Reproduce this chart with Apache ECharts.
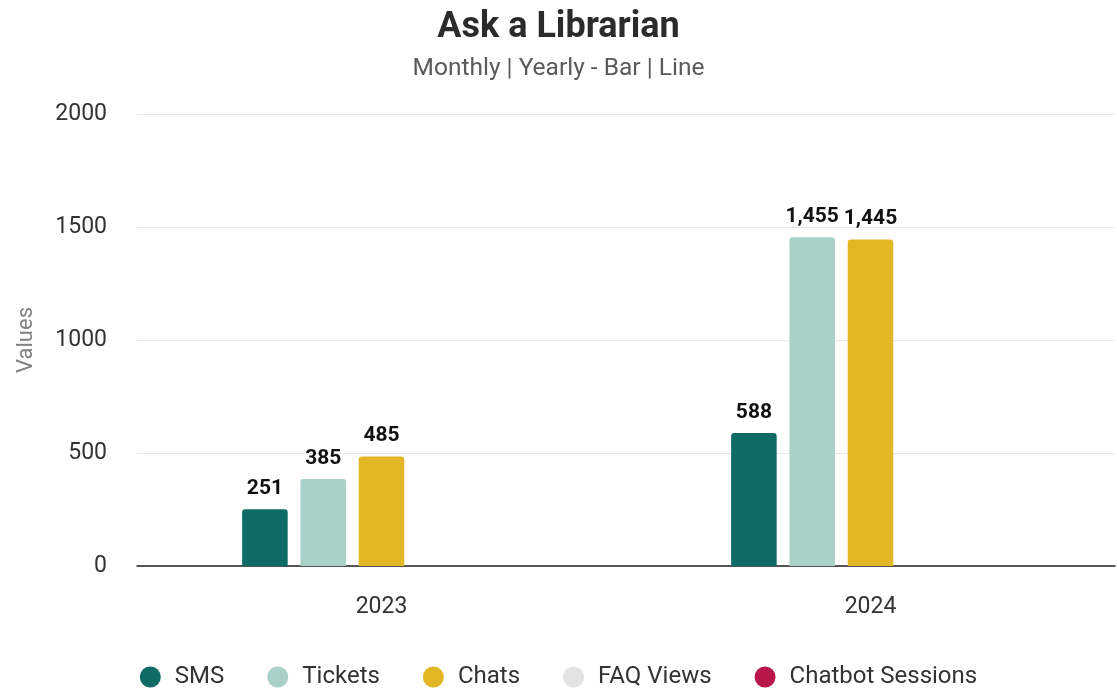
<!DOCTYPE html>
<html>
<head>
<meta charset="utf-8">
<style>
  html, body { margin: 0; padding: 0; background: #ffffff; }
  #chart { width: 1117px; height: 692px; }
</style>
<script src="https://cdn.jsdelivr.net/npm/echarts@6/dist/echarts.min.js"></script>
</head>
<body>
<div id="chart"></div>
<script>
// Yearly totals per service channel
const years = ['2023', '2024'];
const sms = [251, 588];
const tickets = [385, 1455];
const chats = [485, 1445];
const faqViews = [null, null];
const chatbotSessions = [null, null];

const seriesNames = ['SMS', 'Tickets', 'Chats', 'FAQ Views', 'Chatbot Sessions'];
const seriesColors = ['#0f6b66', '#a9d1c7', '#e2b726', '#e3e3e3', '#b8174c'];
const seriesData = [sms, tickets, chats, faqViews, chatbotSessions];

const chart = echarts.init(document.getElementById('chart'), null, { renderer: 'canvas' });

chart.setOption({
  backgroundColor: '#ffffff',
  textStyle: { fontFamily: 'Roboto' },
  title: [
    {
      text: 'Ask a Librarian',
      left: 'center',
      top: 5,
      textStyle: { fontFamily: 'Roboto', fontSize: 36, fontWeight: 'bold', color: '#2b2b2b' }
    },
    {
      text: 'Monthly | Yearly - Bar | Line',
      left: 'center',
      top: 51,
      textStyle: { fontFamily: 'Roboto', fontSize: 24.5, fontWeight: 'normal', color: '#5a5a5a' }
    }
  ],
  legend: {
    bottom: -2,
    left: 'center',
    icon: 'circle',
    itemWidth: 21,
    itemHeight: 21,
    itemGap: 43,
    textStyle: { fontFamily: 'Roboto', fontSize: 24, color: '#333333', padding: [0, 0, 0, 9] },
    data: seriesNames
  },
  grid: { left: 137, right: 2, top: 114, bottom: 126 },
  xAxis: {
    type: 'category',
    data: years,
    axisLine: { show: true, lineStyle: { color: '#222222', width: 1.5 } },
    axisTick: { show: false },
    axisLabel: { fontFamily: 'Roboto', fontSize: 23, color: '#333333', margin: 30 }
  },
  yAxis: {
    type: 'value',
    min: 0,
    max: 2000,
    interval: 500,
    name: 'Values',
    nameLocation: 'middle',
    nameGap: 100,
    nameTextStyle: { fontFamily: 'Roboto', fontSize: 22, color: '#808080' },
    axisLine: { show: false },
    axisTick: { show: false },
    axisLabel: {
      fontFamily: 'Roboto',
      fontSize: 23,
      color: '#333333',
      margin: 30,
      formatter: v => String(v)
    },
    splitLine: { lineStyle: { color: '#e8e8e8', width: 1 } }
  },
  series: seriesNames.map((name, i) => ({
    name: name,
    type: 'bar',
    data: seriesData[i],
    barGap: '28%',
    barCategoryGap: '43%',
    itemStyle: { color: seriesColors[i], borderRadius: [3, 3, 0, 0] },
    label: {
      show: true,
      position: 'top',
      distance: 10,
      fontFamily: 'Roboto',
      fontSize: 21,
      fontWeight: 'bold',
      color: '#111111',
      formatter: p => (p.value == null ? '' : p.value.toLocaleString('en-US'))
    }
  }))
});
</script>
</body>
</html>
